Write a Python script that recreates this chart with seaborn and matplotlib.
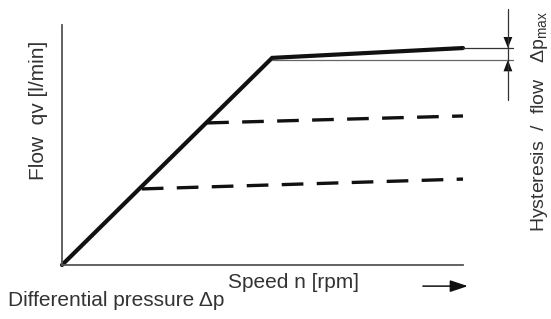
import numpy as np
import pandas as pd
import matplotlib
matplotlib.use("Agg")
import matplotlib.pyplot as plt
import seaborn as sns

# ---- data (speed in % of axis, flow in % of axis) ----
speed_solid = [0, 52.4, 100]
flow_solid = [0, 86.3, 90.4]
speed_dash1 = [36.2, 100]
flow_dash1 = [59.2, 62.1]
speed_dash2 = [19.9, 100]
flow_dash2 = [31.7, 35.8]
hyst_top = 90.4
hyst_bottom = 85.5

sns.set_theme(style="white")
plt.rcParams['font.family'] = ['Liberation Sans', 'DejaVu Sans']
plt.rcParams['mathtext.fontset'] = 'custom'
plt.rcParams['mathtext.rm'] = 'Liberation Sans'

W, H = 551, 319
fig = plt.figure(figsize=(W / 100, H / 100), dpi=100)
ax = fig.add_axes([62 / W, (H - 265) / H, 401 / W, 240 / H])

df_s = pd.DataFrame({"speed": speed_solid, "flow": flow_solid})
df_d1 = pd.DataFrame({"speed": speed_dash1, "flow": flow_dash1})
df_d2 = pd.DataFrame({"speed": speed_dash2, "flow": flow_dash2})

sns.lineplot(data=df_s, x="speed", y="flow", ax=ax, color="#111111",
             linewidth=3.0, sort=False, clip_on=False, solid_joinstyle="miter")
sns.lineplot(data=df_d1, x="speed", y="flow", ax=ax, color="#111111",
             linewidth=2.4, sort=False, dashes=False, clip_on=False)
sns.lineplot(data=df_d2, x="speed", y="flow", ax=ax, color="#111111",
             linewidth=2.4, sort=False, dashes=False, clip_on=False)
for ln in ax.lines[1:]:
    ln.set_linestyle((0, (6.5, 4.0)))

ax.set_xlim(0, 100)
ax.set_ylim(0, 100)
ax.set_xticks([])
ax.set_yticks([])
ax.set_xlabel("")
ax.set_ylabel("")
for s in ["top", "right"]:
    ax.spines[s].set_visible(False)
for s in ["left", "bottom"]:
    ax.spines[s].set_color("#555555")
    ax.spines[s].set_linewidth(1.3)

# hysteresis reference lines
ax.plot([100, 112.5], [hyst_top, hyst_top], color="#333333", lw=0.9, clip_on=False)
ax.plot([speed_solid[1], 112.5], [hyst_bottom, hyst_bottom], color="#666666", lw=0.9, clip_on=False)
vx = 111.2
ax.plot([vx, vx], [106.7, 68.8], color="#333333", lw=0.9, clip_on=False)
hw = 1.1
ax.fill([vx - hw, vx + hw, vx], [hyst_top + 4.6, hyst_top + 4.6, hyst_top],
        color="#111111", clip_on=False, lw=0)
ax.fill([vx - hw, vx + hw, vx], [hyst_bottom - 4.8, hyst_bottom - 4.8, hyst_bottom],
        color="#111111", clip_on=False, lw=0)

# speed arrow
ax.annotate("", xy=(101.2, -8.8), xytext=(90.0, -8.8), xycoords="data",
            annotation_clip=False,
            arrowprops=dict(arrowstyle="-|>,head_length=0.9,head_width=0.3",
                            color="#111111", lw=1.1, shrinkA=0, shrinkB=0))

tc = "#333333"
fig.text(228 / W, 1 - 283 / H, "Speed n [rpm]", fontsize=15, color=tc,
         ha="left", va="center")
fig.text(8 / W, 1 - 300 / H, "Differential pressure Δp", fontsize=15, color=tc,
         ha="left", va="center")
fig.text(39 / W, 1 - 110 / H, "Flow  qv [l/min]", fontsize=15, color=tc,
         ha="center", va="center", rotation=90)
fig.text(540 / W, 1 - 122 / H, r"Hysteresis  /  flow   Δp$_{\mathregular{max}}$",
         fontsize=14, color=tc, ha="center", va="center", rotation=90)

fig.savefig("out.png", dpi=100)
